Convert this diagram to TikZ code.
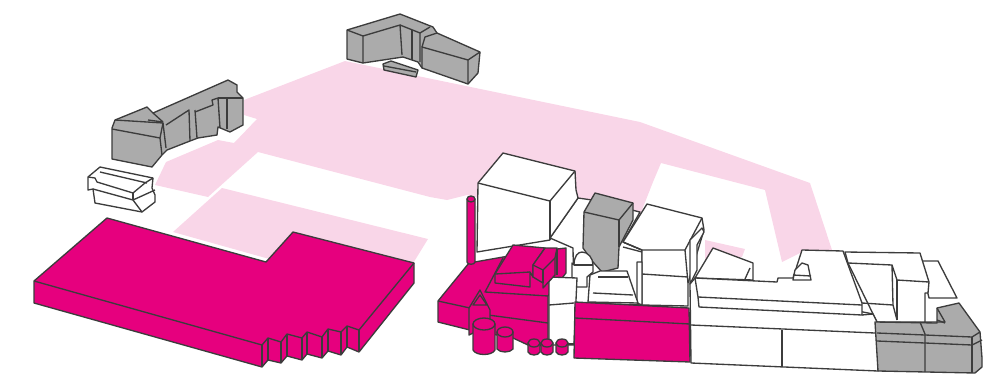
\documentclass[tikz,border=0pt]{standalone}
\usepackage{tikz}
\usetikzlibrary{calc}

\definecolor{magentablock}{HTML}{E6007E}
\definecolor{paleplaza}{HTML}{F9D6E8}
\definecolor{greyblock}{HTML}{ABABAB}
\definecolor{edgeline}{HTML}{3C3C3C}

\begin{document}
\begin{tikzpicture}[
    x=0.75pt, y=-0.75pt,
    line join=round,
    plaza/.style={fill=paleplaza, draw=none},
    pinkbox/.style={fill=magentablock, draw=edgeline, line width=1pt},
    greybox/.style={fill=greyblock, draw=edgeline, line width=1pt},
    whitebox/.style={fill=white, draw=edgeline, line width=1pt},
    edge/.style={draw=edgeline, line width=1pt},
]
\useasboundingbox (0,0) rectangle (1008,379);

%% PLAZA
    % main square
    \fill[plaza] (345,61) -- (640,122) -- (810,183) -- (832,250) -- (802,252) -- (782,262) -- (765,190)
        -- (661,163) -- (653,182) -- (640,215) -- (560,220) -- (467,195) -- (447,200) -- (430,197)
        -- (258,152) -- (208,197) -- (155,185) -- (166,162) -- (218,140) -- (234,143) -- (257,119)
        -- (244,115) -- (244,100) -- cycle;
    % lower strip
    \fill[plaza] (222,188) -- (428,239) -- (412,265) -- (280,262) -- (173,232) -- cycle;
    % small patch
    \fill[plaza] (705,240) -- (745,249) -- (742,257) -- (705,262) -- cycle;

%% BACK BUILDINGS
    % top grey
    \path[greybox] (347,30) -- (400,14) -- (433,27) -- (437,33) -- (480,52) -- (478,73) -- (468,84)
        -- (422,68) -- (418,62) -- (403,57) -- (363,63) -- (347,59) -- cycle;
    \draw[edge] (347,30) -- (363,36) -- (363,63);
    \draw[edge] (363,36) -- (400,25) -- (402,55);
    \draw[edge] (400,25) -- (420,33) -- (420,62);
    \draw[edge] (412,30) -- (412,60);
    \draw[edge] (420,33) -- (430,27);
    \draw[edge] (422,68) -- (422,47) -- (468,60) -- (468,84);
    \draw[edge] (468,60) -- (480,52);
    \draw[edge] (422,47) -- (425,37) -- (437,33);
    \path[greybox] (383,64) -- (391,61) -- (418,70) -- (416,77) -- (384,70) -- cycle;
    \draw[edge] (384,66) -- (416,72);

    % left grey
    \path[greybox] (112,128) -- (115,120) -- (147,107) -- (153,113) -- (228,80) -- (237,85) -- (237,92)
        -- (243,98) -- (243,125) -- (230,132) -- (218,127) -- (217,135) -- (198,138) -- (190,141)
        -- (167,150) -- (162,155) -- (152,167) -- (112,159) -- cycle;
    \draw[edge] (112,129) -- (160,138) -- (162,155);
    \draw[edge] (115,120) -- (163,123) -- (160,138);
    \draw[edge] (153,113) -- (163,122);
    \draw[edge] (148,120) -- (163,122);
    \draw[edge] (163,123) -- (166,148);
    \draw[edge] (166,125) -- (189,110) -- (190,141);
    \draw[edge] (195,110) -- (197,138);
    \draw[edge] (195,112) -- (213,105) -- (212,100) -- (218,98) -- (220,128);
    \draw[edge] (227,98) -- (227,129);
    \draw[edge] (218,98) -- (243,98);

    % left white
    \path[whitebox] (100,167) -- (153,178) -- (152,188) -- (155,195) -- (155,202) -- (142,212)
        -- (95,203) -- (93,189) -- (88,190) -- (88,177) -- cycle;
    \draw[edge] (88,177) -- (95,178) -- (97,182) -- (133,193) -- (145,183) -- (153,178);
    \draw[edge] (100,172) -- (147,183);
    \draw[edge] (93,189) -- (133,200) -- (142,212);
    \draw[edge] (133,200) -- (155,190);
    \draw[edge] (133,193) -- (133,200);

%% PINK BLOCK
    % large roof and walls
    \path[pinkbox] (34,281) -- (107,218) -- (266,262) -- (293,232) -- (414,263) -- (414,283)
        -- (359,352) -- (347,347) -- (341,355) -- (328,351) -- (322,358) -- (307,354) -- (302,360)
        -- (287,356) -- (281,363) -- (268,360) -- (262,367) -- (34,303) -- cycle;
    \draw[edge] (34,281) -- (262,345) -- (268,338) -- (281,342) -- (287,334) -- (302,338) -- (307,332)
        -- (322,337) -- (328,329) -- (341,332) -- (347,326) -- (359,330) -- (414,263);
    \foreach \px/\pa/\pb in {262/345/367, 268/338/360, 281/342/363, 287/334/356, 302/338/360,
        307/332/354, 322/337/358, 328/329/351, 341/332/355, 347/326/347, 359/330/352} {
        \draw[edge] (\px,\pa) -- (\px,\pb);
    }

%% CENTRE BUILDINGS
    % white floor behind tower
    \path[whitebox] (550,238) -- (578,198) -- (592,200) -- (640,212) -- (623,242) -- (642,250)
        -- (642,305) -- (574,303) -- (573,248) -- cycle;
    % large white cube
    \path[whitebox] (503,153) -- (575,171) -- (576,190) -- (578,198) -- (550,238) -- (550,240)
        -- (477,252) -- (478,183) -- cycle;
    \draw[edge] (478,183) -- (550,201) -- (575,171);
    \draw[edge] (550,201) -- (550,240);

    % second white building
    \path[whitebox] (647,204) -- (702,218) -- (704,230) -- (688,283) -- (688,306) -- (642,305)
        -- (642,250) -- (623,242) -- cycle;
    \draw[edge] (623,242) -- (642,250) -- (685,250) -- (702,218);
    \draw[edge] (685,250) -- (688,283);
    \draw[edge] (642,274) -- (688,277);
    \draw[edge] (623,247) -- (642,252);
    \path[whitebox] (637,262) -- (642,262) -- (642,305) -- (637,303) -- cycle;
    \path[whitebox] (690,240) -- (702,228) -- (704,232) -- (697,245) -- (697,270) -- (690,284) -- cycle;

    % grey tower
    \path[greybox] (595,193) -- (633,203) -- (633,220) -- (619,247) -- (618,268) -- (602,272)
        -- (593,262) -- (583,248) -- (584,212) -- cycle;
    \draw[edge] (584,212) -- (619,220) -- (633,203);
    \draw[edge] (619,220) -- (619,247);

    % small dome
    \path[whitebox] (574,265) .. controls (574,256) and (578,252) .. (582,252)
        .. controls (588,252) and (593,258) .. (593,265) -- (593,272) -- (587,277) -- (587,287)
        -- (572,287) -- (572,263) -- cycle;
    \draw[edge] (574,265) -- (593,265);

    % truncated roof
    \path[whitebox] (600,271) -- (627,271) -- (638,303) -- (588,302) -- (590,275) -- cycle;
    \draw[edge] (598,277) -- (628,277);
    \draw[edge] (593,293) -- (633,295);

%% PINK CLUSTER
    % base
    \path[pinkbox] (438,301) -- (469,263) -- (503,257) -- (557,249) -- (566,248) -- (566,273)
        -- (548,296) -- (548,346) -- (528,345) -- (513,338) -- (470,330) -- (438,322) -- cycle;
    \draw[edge] (438,301) -- (470,308) -- (470,330);
    \draw[edge] (503,258) -- (485,292) -- (548,296);
    \draw[edge] (488,315) -- (548,323);
    \draw[edge] (557,249) -- (557,275);
    % white annex
    \path[whitebox] (549,277) -- (577,278) -- (574,345) -- (549,345) -- cycle;
    \draw[edge] (549,305) -- (574,303);
    % chimney
    \path[pinkbox] (467,199) -- (467,262) .. controls (467,265) and (475,265) .. (475,262) -- (475,199) -- cycle;
    \path[pinkbox] (471,199) ellipse (4 and 3);
    % upper block
    \path[pinkbox] (513,245) -- (545,248) -- (533,265) -- (533,277) -- (530,272) -- (530,287) -- (495,283)
        -- (495,274) -- cycle;
    \draw[edge] (495,274) -- (530,272);
    \path[pinkbox] (533,265) -- (545,248) -- (557,248) -- (555,258) -- (555,275) -- (543,288)
        -- (543,283) -- (533,277) -- cycle;
    \draw[edge] (533,265) -- (543,270) -- (555,258);
    \draw[edge] (543,270) -- (543,283);
    % tent
    \path[pinkbox] (480,290) -- (490,310) -- (490,325) -- (469,335) -- (469,308) -- cycle;
    \draw[edge] (473,305) -- (487,305) -- (480,295) -- cycle;
    % tanks
    \path[pinkbox] (473,324) -- (473,350) .. controls (476,356) and (492,356) .. (495,350) -- (495,324) -- cycle;
    \path[pinkbox] (484,324) ellipse (11 and 6);
    \path[pinkbox] (497,332) -- (497,349) .. controls (500,353) and (510,353) .. (513,349) -- (513,332) -- cycle;
    \path[pinkbox] (505,332) ellipse (8 and 5);
    \foreach \cx in {534,547,562} {
        \path[pinkbox] (\cx-6,343) -- (\cx-6,352) .. controls (\cx-4,356) and (\cx+4,356) .. (\cx+6,352) -- (\cx+6,343) -- cycle;
        \path[pinkbox] (\cx,343) ellipse (6 and 4);
    }
    \draw[edge] (568,344) -- (574,344);

%% RIGHT WING
    % far blocks
    \path[whitebox] (920,261) -- (938,261) -- (957,298) -- (929,298) -- cycle;
    \path[whitebox] (845,252) -- (920,253) -- (929,282) -- (928,293) -- (925,293) -- (925,322)
        -- (877,322) -- (848,263) -- cycle;
    \draw[edge] (848,263) -- (892,265) -- (897,280) -- (929,282);
    \draw[edge] (892,265) -- (893,305) -- (897,320);
    \draw[edge] (897,280) -- (897,320);

    % long wall and pink front
    \path[whitebox] (690,284) -- (695,278) -- (873,314) -- (877,322) -- (878,371) -- (691,363) -- cycle;
    \draw[edge] (691,325) -- (875,333);
    \draw[edge] (782,330) -- (782,367);
    \path[pinkbox] (575,302) -- (689,308) -- (690,362) -- (574,358) -- cycle;
    \draw[edge] (575,318) -- (690,324);

    % wedge
    \path[whitebox] (695,278) -- (713,248) -- (753,263) -- (753,280) -- cycle;
    \draw[edge] (745,279) -- (750,268);

    % long roof
    \path[whitebox] (695,278) -- (777,282) -- (778,278) -- (793,278) -- (802,250) -- (843,251)
        -- (862,303) -- (862,315) -- (699,307) -- (698,297) -- cycle;
    \draw[edge] (698,297) -- (862,305);
    \draw[edge] (862,303) -- (893,305);
    \draw[edge] (862,315) -- (873,314);

    % small lantern
    \path[whitebox] (793,280) -- (795,270) -- (802,263) -- (808,265) -- (811,280) -- cycle;
    \draw[edge] (793,275) -- (811,276);

    % grey end
    \path[greybox] (875,322) -- (937,323) -- (937,308) -- (959,303) -- (980,332) -- (982,358) -- (982,367)
        -- (975,373) -- (878,371) -- cycle;
    \draw[edge] (937,308) -- (945,322) -- (925,322);
    \draw[edge] (937,320) -- (945,323);
    \draw[edge] (877,333) -- (925,335) -- (972,337) -- (980,332);
    \draw[edge] (877,341) -- (925,343) -- (972,345) -- (982,340);
    \draw[edge] (920,322) -- (925,334) -- (925,372);
    \draw[edge] (972,337) -- (972,373);

\end{tikzpicture}
\end{document}
